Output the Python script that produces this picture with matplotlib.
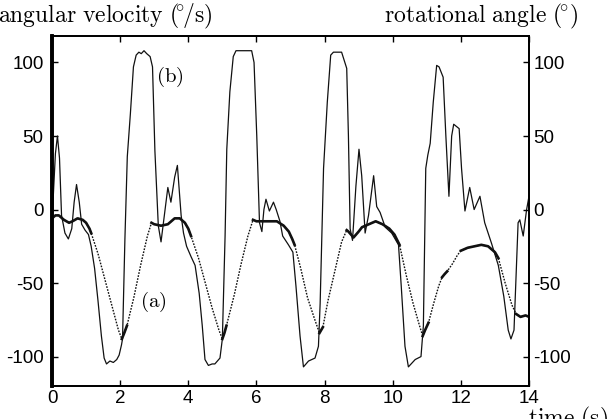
import numpy as np
import matplotlib
matplotlib.use("Agg")
import matplotlib.pyplot as plt

plt.rcParams['font.family'] = ['Liberation Sans', 'DejaVu Sans']
plt.rcParams['mathtext.fontset'] = 'cm'

# (b) angular velocity, deg/s
t_b = [0.0, 0.05, 0.10, 0.16, 0.22, 0.28, 0.38, 0.48, 0.58, 0.65, 0.72, 0.80, 0.87,
       0.97, 1.07, 1.15, 1.25, 1.35, 1.45, 1.53, 1.60, 1.70, 1.80, 1.90, 1.97,
       2.04, 2.07, 2.14, 2.21, 2.30, 2.39, 2.47, 2.55, 2.62, 2.70, 2.78, 2.88,
       2.95, 3.02, 3.12, 3.20, 3.27, 3.40, 3.49, 3.60, 3.68, 3.79, 3.86, 3.95,
       4.08, 4.20, 4.32, 4.41, 4.49, 4.59, 4.70, 4.78, 4.93, 5.00, 5.08, 5.13,
       5.22, 5.32, 5.40, 5.55, 5.70, 5.86, 5.93, 6.01, 6.09, 6.16, 6.22, 6.28,
       6.38, 6.50, 6.58, 6.69, 6.77, 6.94, 7.07, 7.16, 7.28, 7.38, 7.53, 7.72,
       7.82, 7.87, 7.97, 8.08, 8.18, 8.26, 8.40, 8.50, 8.58, 8.65, 8.70, 8.75,
       8.82, 8.92, 9.01, 9.09, 9.19, 9.29, 9.44, 9.53, 9.63, 9.78, 9.97, 10.17,
       10.25, 10.36, 10.46, 10.66, 10.83, 10.90, 10.97, 11.03, 11.10, 11.19,
       11.29, 11.36, 11.48, 11.56, 11.65, 11.73, 11.79, 11.95, 12.02, 12.12,
       12.26, 12.39, 12.56, 12.70, 12.90, 13.10, 13.26, 13.39, 13.47, 13.56,
       13.61, 13.68, 13.73, 13.83, 13.93, 14.0]
v_b = [-10, 15, 38, 50, 35, -4, -16, -20, -13, 5, 17, 5, -10,
       -14, -17, -25, -40, -62, -86, -101, -105, -103, -104, -102, -99,
       -92, -88, -20, 36, 65, 97, 105, 107, 106, 108, 106, 104,
       97, 40, -11, -22, -9, 15, 5, 22, 30, -4, -16, -25,
       -32, -38, -57, -79, -102, -106, -105, -105, -101, -88, -18, 41,
       80, 104, 108, 108, 108, 108, 100, 50, -9, -15, 0, 7,
       -1, 5, 0, -8, -18, -24, -29, -52, -86, -107, -103, -101,
       -93, -64, 28, 73, 105, 107, 107, 107, 101, 96, 50, -13,
       -21, 16, 41, 23, -16, -4, 23, 2, -2, -12, -16, -24,
       -52, -93, -107, -102, -100, -79, 28, 37, 45, 73,
       98, 97, 90, 50, 9, 50, 58, 55, 28, -1,
       15, 0, 9, -9, -23, -38, -59, -82, -88, -82,
       -52, -9, -7, -18, 0, 9]

# (a) rotational angle, deg
t_a = [0.0, 0.10, 0.20, 0.35, 0.50, 0.60, 0.75, 0.90, 1.00, 1.10, 1.15,
       1.35, 1.50, 1.65, 1.80, 1.95, 2.05, 2.12, 2.20,
       2.40, 2.60, 2.80, 2.92, 3.00, 3.20, 3.40, 3.60, 3.75, 3.90, 4.00, 4.08,
       4.30, 4.50, 4.70, 4.90, 5.00, 5.06, 5.12,
       5.35, 5.55, 5.75, 5.90, 6.00, 6.20, 6.40, 6.60, 6.80, 6.95, 7.05, 7.12,
       7.30, 7.50, 7.70, 7.85, 7.90, 7.95,
       8.10, 8.30, 8.50, 8.65, 8.70, 8.85, 9.00, 9.10, 9.30, 9.50, 9.70, 9.90,
       10.05, 10.20, 10.40, 10.60, 10.80, 10.88, 10.95, 11.05,
       11.20, 11.35, 11.45, 11.52, 11.60, 11.75, 11.90, 12.00, 12.20, 12.40,
       12.60, 12.80, 13.00, 13.10, 13.30, 13.50, 13.62, 13.75, 13.90, 14.0]
v_a = [-6, -4, -4, -7, -9, -8, -6, -7, -9, -13, -16,
       -30, -43, -56, -69, -82, -88, -84, -79,
       -60, -38, -18, -9, -10, -11, -10, -6, -6, -9, -13, -18,
       -33, -50, -67, -82, -88, -84, -79,
       -58, -37, -18, -7, -8, -8, -8, -8, -11, -15, -20, -24,
       -40, -60, -74, -84, -82, -80,
       -62, -42, -22, -14, -15, -19, -15, -12, -10, -8, -10, -13,
       -17, -24, -45, -64, -80, -86, -82, -77,
       -64, -52, -46, -44, -42, -37, -31, -28, -26, -25,
       -24, -25, -29, -33, -50, -65, -71, -73, -72, -73]

# time ranges where (a) is drawn as a solid trace (the rest is dotted)
a_solid = [(0.0, 1.15), (2.05, 2.20), (2.92, 4.08), (5.0, 5.12), (5.90, 7.12),
           (7.85, 7.95), (8.65, 10.20), (10.88, 11.05), (11.45, 11.60),
           (12.0, 13.10), (13.62, 14.0)]

yticks = [-100, -50, 0, 50, 100]
xticks = [0, 2, 4, 6, 8, 10, 12, 14]

fig = plt.figure(figsize=(6.09, 4.19), dpi=100)
ax = fig.add_axes([52 / 609, 1 - 386 / 419, 477 / 609, 350 / 419])
ax2 = ax.twinx()

ax.plot(t_b, v_b, color='#111111', lw=0.9)

ta = np.array(t_a)
va = np.array(v_a)
ax2.plot(ta, va, color='#111111', lw=1.0, ls=(0, (1.2, 1.0)))
for a, b in a_solid:
    m = (ta >= a) & (ta <= b)
    ax2.plot(ta[m], va[m], color='#111111', lw=1.9, solid_joinstyle='round')

for a_ in (ax, ax2):
    a_.set_xlim(0, 14)
    a_.set_ylim(-120, 118)
    a_.set_yticks(yticks)
    a_.set_yticklabels([str(v) for v in yticks])
ax.set_xticks(xticks)

ax.tick_params(axis='x', direction='in', length=4, width=1, top=True,
               labelsize=13.5, pad=3)
ax.tick_params(axis='y', direction='in', length=4, width=1, labelsize=13.5, pad=6)
ax2.tick_params(axis='y', direction='in', length=4, width=1, labelsize=13.5, pad=3)

for s in ('top', 'bottom', 'right'):
    ax.spines[s].set_linewidth(1.3)
    ax2.spines[s].set_linewidth(1.3)
ax.spines['left'].set_linewidth(2.6)
ax2.spines['left'].set_linewidth(2.6)

ax.text(3.46, 90, r'$\mathrm{(b)}$', fontsize=15, ha='center', va='center')
ax.text(2.96, -63, r'$\mathrm{(a)}$', fontsize=15, ha='center', va='center')

fig.text(212 / 609, 1 - 22 / 419, r'$\mathrm{angular\ velocity\ (\!^{\circ}\!/s)}$',
         fontsize=17, ha='right', va='baseline')
fig.text(578 / 609, 1 - 22 / 419, r'$\mathrm{rotational\ angle\ (\!^{\circ})}$',
         fontsize=17, ha='right', va='baseline')
fig.text(528 / 609, 1 - 425 / 419, r'$\mathrm{time\ (s)}$',
         fontsize=17, ha='left', va='baseline')

fig.savefig('out.png', dpi=100)
